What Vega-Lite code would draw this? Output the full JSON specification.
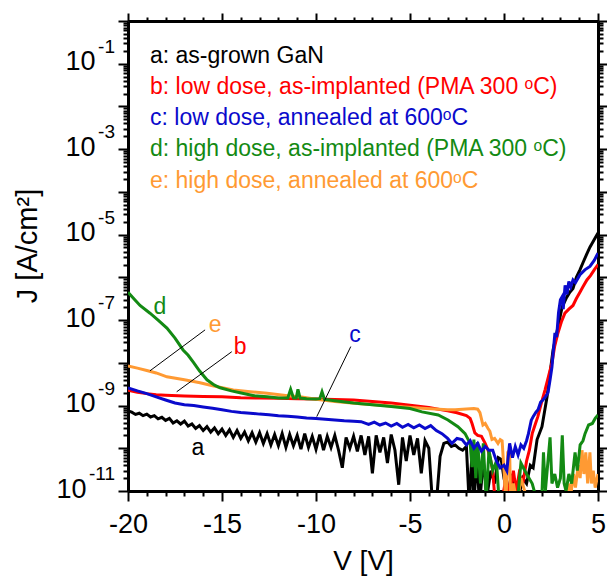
{
  "$schema": "https://vega.github.io/schema/vega-lite/v6.json",
  "width": 470,
  "height": 470,
  "autosize": {"type": "none"},
  "padding": {"left": 128, "top": 21, "right": 9, "bottom": 88},
  "background": "white",
  "config": {
    "view": {"stroke": null},
    "axis": {
      "domainColor": "black", "domainWidth": 3, "tickColor": "black", "tickWidth": 2,
      "labelFont": "Liberation Sans", "labelFontSize": 27, "labelColor": "black",
      "titleFont": "Liberation Sans", "titleFontSize": 28, "titleFontWeight": "normal", "titleColor": "black",
      "grid": false, "labelOverlap": false, "labelFlush": false, "zindex": 1
    },
    "text": {"font": "Liberation Sans"}
  },
  "datasets": {
    "curves": [
      {"s":"a","V":-20,"J":7.5e-10},{"s":"a","V":-19.8,"J":7.0e-10},{"s":"a","V":-19.6,"J":6.2e-10},{"s":"a","V":-19.4,"J":6.6e-10},{"s":"a","V":-19.2,"J":5.8e-10},{"s":"a","V":-19.0,"J":6.3e-10},{"s":"a","V":-18.8,"J":5.4e-10},{"s":"a","V":-18.6,"J":5.8e-10},{"s":"a","V":-18.4,"J":4.9e-10},{"s":"a","V":-18.2,"J":5.3e-10},{"s":"a","V":-18.0,"J":4.5e-10},{"s":"a","V":-17.8,"J":5.0e-10},{"s":"a","V":-17.6,"J":3.9e-10},{"s":"a","V":-17.4,"J":4.4e-10},{"s":"a","V":-17.2,"J":3.7e-10},{"s":"a","V":-17.0,"J":4.3e-10},{"s":"a","V":-16.8,"J":3.3e-10},{"s":"a","V":-16.6,"J":3.7e-10},{"s":"a","V":-16.4,"J":2.9e-10},{"s":"a","V":-16.2,"J":3.4e-10},{"s":"a","V":-16.0,"J":2.6e-10},{"s":"a","V":-15.8,"J":3.2e-10},{"s":"a","V":-15.6,"J":2.4e-10},{"s":"a","V":-15.4,"J":3.0e-10},{"s":"a","V":-15.2,"J":2.2e-10},{"s":"a","V":-15.0,"J":2.8e-10},{"s":"a","V":-14.8,"J":2.0e-10},{"s":"a","V":-14.6,"J":2.7e-10},{"s":"a","V":-14.4,"J":1.8e-10},{"s":"a","V":-14.2,"J":2.6e-10},{"s":"a","V":-14.0,"J":1.7e-10},{"s":"a","V":-13.8,"J":2.4e-10},{"s":"a","V":-13.6,"J":1.5e-10},{"s":"a","V":-13.4,"J":2.3e-10},{"s":"a","V":-13.2,"J":1.4e-10},{"s":"a","V":-13.0,"J":2.3e-10},{"s":"a","V":-12.8,"J":1.3e-10},{"s":"a","V":-12.6,"J":2.2e-10},{"s":"a","V":-12.4,"J":1.2e-10},{"s":"a","V":-12.2,"J":2.1e-10},{"s":"a","V":-12.0,"J":1.15e-10},{"s":"a","V":-11.8,"J":2.2e-10},{"s":"a","V":-11.6,"J":1.05e-10},{"s":"a","V":-11.4,"J":2.1e-10},{"s":"a","V":-11.2,"J":1.15e-10},{"s":"a","V":-11.0,"J":2.0e-10},{"s":"a","V":-10.8,"J":9.5e-11},{"s":"a","V":-10.6,"J":2.2e-10},{"s":"a","V":-10.4,"J":1.05e-10},{"s":"a","V":-10.2,"J":1.9e-10},{"s":"a","V":-10.0,"J":9.5e-11},{"s":"a","V":-9.8,"J":2.1e-10},{"s":"a","V":-9.6,"J":9.0e-11},{"s":"a","V":-9.4,"J":1.9e-10},{"s":"a","V":-9.2,"J":1.05e-10},{"s":"a","V":-9.0,"J":2.0e-10},{"s":"a","V":-8.8,"J":9.0e-11},{"s":"a","V":-8.6,"J":3.5e-11},{"s":"a","V":-8.4,"J":1.8e-10},{"s":"a","V":-8.2,"J":1.0e-10},{"s":"a","V":-8.0,"J":1.9e-10},{"s":"a","V":-7.8,"J":8.5e-11},{"s":"a","V":-7.6,"J":2.0e-10},{"s":"a","V":-7.4,"J":7.0e-11},{"s":"a","V":-7.2,"J":1.9e-10},{"s":"a","V":-7.0,"J":2.6e-11},{"s":"a","V":-6.8,"J":2.0e-10},{"s":"a","V":-6.6,"J":8.0e-11},{"s":"a","V":-6.4,"J":1.8e-10},{"s":"a","V":-6.2,"J":4.5e-11},{"s":"a","V":-6.0,"J":2.1e-10},{"s":"a","V":-5.8,"J":9.0e-11},{"s":"a","V":-5.6,"J":1.4e-11},{"s":"a","V":-5.4,"J":1.8e-10},{"s":"a","V":-5.2,"J":5.0e-11},{"s":"a","V":-5.0,"J":2.0e-10},{"s":"a","V":-4.8,"J":7.0e-11},{"s":"a","V":-4.6,"J":1.7e-10},{"s":"a","V":-4.4,"J":2.6e-11},{"s":"a","V":-4.2,"J":1.5e-10},{"s":"a","V":-4.0,"J":1.0e-10},{"s":"a","V":-3.8,"J":5e-12},{"s":"a","V":-3.6,"J":5e-12},{"s":"a","V":-3.4,"J":6.5e-11},{"s":"a","V":-3.2,"J":1.3e-10},{"s":"a","V":-3.0,"J":1.4e-10},{"s":"a","V":-2.8,"J":1.1e-10},{"s":"a","V":-2.6,"J":1.2e-10},{"s":"a","V":-2.4,"J":1.0e-10},{"s":"a","V":-2.2,"J":9.0e-11},{"s":"a","V":-2.0,"J":1.1e-10},{"s":"a","V":-1.85,"J":5e-12},{"s":"a","V":-1.7,"J":8e-11},{"s":"a","V":-1.6,"J":5e-12},{"s":"a","V":-1.45,"J":6e-11},{"s":"a","V":-1.3,"J":5e-12},{"s":"a","V":-1.1,"J":5e-11},{"s":"a","V":-0.9,"J":8e-12},{"s":"a","V":-0.7,"J":3e-11},{"s":"a","V":-0.5,"J":1.5e-11},{"s":"a","V":-0.3,"J":6e-11},{"s":"a","V":-0.15,"J":5.5e-11},{"s":"a","V":0.0,"J":2e-11},{"s":"a","V":0.2,"J":8e-12},{"s":"a","V":0.4,"J":2.5e-11},{"s":"a","V":0.6,"J":1.2e-11},{"s":"a","V":0.8,"J":8e-12},{"s":"a","V":1.0,"J":2e-11},{"s":"a","V":1.2,"J":1.5e-11},{"s":"a","V":1.4,"J":4e-11},{"s":"a","V":1.55,"J":3.5e-11},{"s":"a","V":1.76,"J":1.6e-10},{"s":"a","V":2.02,"J":3.2e-10},{"s":"a","V":2.29,"J":1.6e-9},{"s":"a","V":2.45,"J":5.8e-9},{"s":"a","V":2.61,"J":2.0e-8},{"s":"a","V":2.87,"J":6.9e-8},{"s":"a","V":3.09,"J":2.0e-7},{"s":"a","V":3.3,"J":3.2e-7},{"s":"a","V":3.5,"J":4.5e-7},{"s":"a","V":3.67,"J":5.5e-7},{"s":"a","V":3.85,"J":1.0e-6},{"s":"a","V":4.04,"J":1.5e-6},{"s":"a","V":4.2,"J":2.2e-6},{"s":"a","V":4.4,"J":3.5e-6},{"s":"a","V":4.57,"J":5.1e-6},{"s":"a","V":4.75,"J":7.0e-6},{"s":"a","V":5.0,"J":1.1e-5},

      {"s":"b","V":-20,"J":2.3e-9},{"s":"b","V":-19.5,"J":2.05e-9},{"s":"b","V":-19,"J":1.9e-9},{"s":"b","V":-18.5,"J":1.8e-9},{"s":"b","V":-18,"J":1.75e-9},{"s":"b","V":-17,"J":1.68e-9},{"s":"b","V":-16,"J":1.63e-9},{"s":"b","V":-15,"J":1.6e-9},{"s":"b","V":-14,"J":1.52e-9},{"s":"b","V":-13,"J":1.5e-9},{"s":"b","V":-12,"J":1.48e-9},{"s":"b","V":-11,"J":1.45e-9},{"s":"b","V":-10,"J":1.42e-9},{"s":"b","V":-9,"J":1.38e-9},{"s":"b","V":-8,"J":1.35e-9},{"s":"b","V":-7,"J":1.25e-9},{"s":"b","V":-6,"J":1.15e-9},{"s":"b","V":-5,"J":1.02e-9},{"s":"b","V":-4,"J":9.0e-10},{"s":"b","V":-3,"J":7.5e-10},{"s":"b","V":-2.5,"J":6.8e-10},{"s":"b","V":-2,"J":5.8e-10},{"s":"b","V":-1.8,"J":5.0e-10},{"s":"b","V":-1.7,"J":3.8e-10},{"s":"b","V":-1.55,"J":2.3e-10},{"s":"b","V":-1.4,"J":2.0e-10},{"s":"b","V":-1.2,"J":1.9e-10},{"s":"b","V":-1.0,"J":1.3e-10},{"s":"b","V":-0.85,"J":9e-11},{"s":"b","V":-0.7,"J":5e-11},{"s":"b","V":-0.6,"J":3e-11},{"s":"b","V":-0.5,"J":8e-12},{"s":"b","V":-0.3,"J":5e-12},{"s":"b","V":-0.1,"J":6e-12},{"s":"b","V":0.1,"J":2e-11},{"s":"b","V":0.3,"J":8e-12},{"s":"b","V":0.5,"J":3e-11},{"s":"b","V":0.65,"J":1e-11},{"s":"b","V":0.8,"J":2.5e-11},{"s":"b","V":1.0,"J":1.5e-11},{"s":"b","V":1.2,"J":5e-11},{"s":"b","V":1.35,"J":9e-11},{"s":"b","V":1.5,"J":2.2e-10},{"s":"b","V":1.65,"J":3.5e-10},{"s":"b","V":1.8,"J":5.5e-10},{"s":"b","V":2.0,"J":1.2e-9},{"s":"b","V":2.18,"J":2.3e-9},{"s":"b","V":2.35,"J":4.5e-9},{"s":"b","V":2.55,"J":1.0e-8},{"s":"b","V":2.7,"J":2.5e-8},{"s":"b","V":2.87,"J":5.0e-8},{"s":"b","V":3.05,"J":9e-8},{"s":"b","V":3.24,"J":1.45e-7},{"s":"b","V":3.45,"J":1.8e-7},{"s":"b","V":3.67,"J":2.2e-7},{"s":"b","V":3.85,"J":3.2e-7},{"s":"b","V":4.04,"J":4.5e-7},{"s":"b","V":4.2,"J":6.0e-7},{"s":"b","V":4.41,"J":8.7e-7},{"s":"b","V":4.6,"J":1.1e-6},{"s":"b","V":4.8,"J":1.5e-6},{"s":"b","V":5.0,"J":2.0e-6},

      {"s":"e","V":-20,"J":8.5e-9},{"s":"e","V":-19.5,"J":7.5e-9},{"s":"e","V":-19,"J":6.6e-9},{"s":"e","V":-18.5,"J":5.8e-9},{"s":"e","V":-17.93,"J":4.7e-9},{"s":"e","V":-17,"J":4.0e-9},{"s":"e","V":-16.17,"J":3.4e-9},{"s":"e","V":-15.5,"J":2.9e-9},{"s":"e","V":-14.4,"J":2.3e-9},{"s":"e","V":-13.5,"J":2.1e-9},{"s":"e","V":-12.6,"J":1.95e-9},{"s":"e","V":-11.5,"J":1.7e-9},{"s":"e","V":-10.85,"J":1.6e-9},{"s":"e","V":-10,"J":1.4e-9},{"s":"e","V":-9,"J":1.25e-9},{"s":"e","V":-7.66,"J":1.1e-9},{"s":"e","V":-6,"J":9.8e-10},{"s":"e","V":-4.36,"J":8.7e-10},{"s":"e","V":-3,"J":8.0e-10},{"s":"e","V":-2.6,"J":8.0e-10},{"s":"e","V":-2,"J":8.3e-10},{"s":"e","V":-1.6,"J":8.5e-10},{"s":"e","V":-1.4,"J":8.2e-10},{"s":"e","V":-1.28,"J":6.8e-10},{"s":"e","V":-1.12,"J":3.5e-10},{"s":"e","V":-1.0,"J":3.8e-10},{"s":"e","V":-0.85,"J":2.9e-10},{"s":"e","V":-0.75,"J":2.5e-10},{"s":"e","V":-0.64,"J":1.6e-10},{"s":"e","V":-0.5,"J":1.7e-10},{"s":"e","V":-0.32,"J":1.3e-10},{"s":"e","V":-0.2,"J":1.6e-10},{"s":"e","V":-0.1,"J":1.5e-10},{"s":"e","V":0.0,"J":3e-11},{"s":"e","V":0.1,"J":5e-12},{"s":"e","V":0.2,"J":8e-11},{"s":"e","V":0.3,"J":9e-11},{"s":"e","V":0.35,"J":5e-12},{"s":"e","V":0.5,"J":1.5e-11},{"s":"e","V":0.7,"J":5e-12},{"s":"e","V":0.9,"J":2e-11},{"s":"e","V":1.1,"J":1e-11},{"s":"e","V":1.3,"J":5e-12},{"s":"e","V":3.35,"J":5e-12},{"s":"e","V":3.45,"J":1.5e-11},{"s":"e","V":3.55,"J":8e-12},{"s":"e","V":3.7,"J":2.5e-11},{"s":"e","V":3.8,"J":1.2e-11},{"s":"e","V":3.95,"J":4e-11},{"s":"e","V":4.05,"J":2e-11},{"s":"e","V":4.15,"J":9e-11},{"s":"e","V":4.25,"J":2.5e-11},{"s":"e","V":4.35,"J":8e-11},{"s":"e","V":4.45,"J":1.5e-11},{"s":"e","V":4.57,"J":8e-11},{"s":"e","V":4.65,"J":1.5e-11},{"s":"e","V":4.75,"J":3e-11},{"s":"e","V":4.85,"J":1.2e-11},{"s":"e","V":5.0,"J":2.5e-11},

      {"s":"d","V":-20,"J":4.5e-7},{"s":"d","V":-19.7,"J":3.2e-7},{"s":"d","V":-19.36,"J":2.2e-7},{"s":"d","V":-18.83,"J":1.45e-7},{"s":"d","V":-18.4,"J":1.0e-7},{"s":"d","V":-17.93,"J":6.5e-8},{"s":"d","V":-17.5,"J":3.8e-8},{"s":"d","V":-17.07,"J":2.0e-8},{"s":"d","V":-16.8,"J":1.5e-8},{"s":"d","V":-16.5,"J":1.0e-8},{"s":"d","V":-16.2,"J":6.5e-9},{"s":"d","V":-15.8,"J":4.0e-9},{"s":"d","V":-15.4,"J":3.0e-9},{"s":"d","V":-15.1,"J":2.6e-9},{"s":"d","V":-14.5,"J":2.2e-9},{"s":"d","V":-14.04,"J":2.0e-9},{"s":"d","V":-13.3,"J":1.7e-9},{"s":"d","V":-12.6,"J":1.6e-9},{"s":"d","V":-12.0,"J":1.5e-9},{"s":"d","V":-11.5,"J":1.5e-9},{"s":"d","V":-11.35,"J":2.4e-9},{"s":"d","V":-11.2,"J":1.5e-9},{"s":"d","V":-11.05,"J":1.5e-9},{"s":"d","V":-10.96,"J":2.4e-9},{"s":"d","V":-10.85,"J":1.5e-9},{"s":"d","V":-10.5,"J":1.45e-9},{"s":"d","V":-10,"J":1.42e-9},{"s":"d","V":-9.8,"J":1.45e-9},{"s":"d","V":-9.68,"J":2.1e-9},{"s":"d","V":-9.55,"J":1.4e-9},{"s":"d","V":-9,"J":1.3e-9},{"s":"d","V":-8,"J":1.15e-9},{"s":"d","V":-7,"J":1.05e-9},{"s":"d","V":-6,"J":9.5e-10},{"s":"d","V":-5,"J":8.5e-10},{"s":"d","V":-4.36,"J":7.1e-10},{"s":"d","V":-3.5,"J":6.0e-10},{"s":"d","V":-2.98,"J":4.6e-10},{"s":"d","V":-2.45,"J":3.2e-10},{"s":"d","V":-2.07,"J":2.2e-10},{"s":"d","V":-1.8,"J":1.3e-10},{"s":"d","V":-1.7,"J":3.6e-11},{"s":"d","V":-1.6,"J":1.6e-10},{"s":"d","V":-1.5,"J":2e-11},{"s":"d","V":-1.4,"J":1.4e-10},{"s":"d","V":-1.25,"J":1.5e-11},{"s":"d","V":-1.1,"J":1.3e-10},{"s":"d","V":-0.95,"J":6e-12},{"s":"d","V":-0.8,"J":9e-11},{"s":"d","V":-0.6,"J":3e-11},{"s":"d","V":-0.4,"J":5e-11},{"s":"d","V":-0.25,"J":5e-12},{"s":"d","V":0.7,"J":5e-12},{"s":"d","V":0.9,"J":4.5e-11},{"s":"d","V":1.2,"J":2.5e-11},{"s":"d","V":1.5,"J":1.5e-11},{"s":"d","V":1.8,"J":5e-12},{"s":"d","V":2.0,"J":5e-12},{"s":"d","V":2.1,"J":8e-11},{"s":"d","V":2.2,"J":1e-11},{"s":"d","V":2.45,"J":1.8e-10},{"s":"d","V":2.55,"J":1.5e-11},{"s":"d","V":2.7,"J":2.5e-11},{"s":"d","V":2.85,"J":1.2e-11},{"s":"d","V":3.0,"J":2e-11},{"s":"d","V":3.1,"J":2e-10},{"s":"d","V":3.2,"J":1.5e-11},{"s":"d","V":3.3,"J":1.0e-11},{"s":"d","V":3.45,"J":2.5e-11},{"s":"d","V":3.6,"J":1.5e-11},{"s":"d","V":3.78,"J":8e-11},{"s":"d","V":3.9,"J":3e-11},{"s":"d","V":4.05,"J":1.2e-10},{"s":"d","V":4.2,"J":1.5e-10},{"s":"d","V":4.31,"J":2.2e-10},{"s":"d","V":4.5,"J":3.5e-10},{"s":"d","V":4.7,"J":3.8e-10},{"s":"d","V":4.85,"J":5e-10},{"s":"d","V":5.0,"J":6e-10},

      {"s":"c","V":-20,"J":2.6e-9},{"s":"c","V":-19.5,"J":2.2e-9},{"s":"c","V":-19,"J":1.9e-9},{"s":"c","V":-18.5,"J":1.6e-9},{"s":"c","V":-18,"J":1.35e-9},{"s":"c","V":-17.5,"J":1.15e-9},{"s":"c","V":-17,"J":1.05e-9},{"s":"c","V":-16.5,"J":1.0e-9},{"s":"c","V":-16,"J":9.3e-10},{"s":"c","V":-15.5,"J":8.6e-10},{"s":"c","V":-15,"J":8.0e-10},{"s":"c","V":-14.5,"J":7.3e-10},{"s":"c","V":-14,"J":6.9e-10},{"s":"c","V":-13.5,"J":6.6e-10},{"s":"c","V":-13,"J":6.3e-10},{"s":"c","V":-12.5,"J":6.1e-10},{"s":"c","V":-12,"J":5.8e-10},{"s":"c","V":-11.5,"J":5.6e-10},{"s":"c","V":-11,"J":5.4e-10},{"s":"c","V":-10.5,"J":5.1e-10},{"s":"c","V":-10,"J":5.0e-10},{"s":"c","V":-9.5,"J":4.8e-10},{"s":"c","V":-9,"J":4.6e-10},{"s":"c","V":-8.5,"J":4.4e-10},{"s":"c","V":-8,"J":4.3e-10},{"s":"c","V":-7.6,"J":4.2e-10},{"s":"c","V":-7.2,"J":3.6e-10},{"s":"c","V":-6.9,"J":4.1e-10},{"s":"c","V":-6.6,"J":3.5e-10},{"s":"c","V":-6.3,"J":3.9e-10},{"s":"c","V":-6.0,"J":3.3e-10},{"s":"c","V":-5.7,"J":3.8e-10},{"s":"c","V":-5.4,"J":3.1e-10},{"s":"c","V":-5.1,"J":3.6e-10},{"s":"c","V":-4.8,"J":3.0e-10},{"s":"c","V":-4.5,"J":3.5e-10},{"s":"c","V":-4.2,"J":2.9e-10},{"s":"c","V":-3.9,"J":3.4e-10},{"s":"c","V":-3.6,"J":2.6e-10},{"s":"c","V":-3.3,"J":2.2e-10},{"s":"c","V":-3.0,"J":1.7e-10},{"s":"c","V":-2.77,"J":1.3e-10},{"s":"c","V":-2.5,"J":1.7e-10},{"s":"c","V":-2.23,"J":1.6e-10},{"s":"c","V":-2.0,"J":1.2e-10},{"s":"c","V":-1.8,"J":1.5e-10},{"s":"c","V":-1.6,"J":1.0e-10},{"s":"c","V":-1.4,"J":1.3e-10},{"s":"c","V":-1.2,"J":8.5e-11},{"s":"c","V":-1.0,"J":1.1e-10},{"s":"c","V":-0.8,"J":9e-11},{"s":"c","V":-0.6,"J":9e-11},{"s":"c","V":-0.4,"J":5e-11},{"s":"c","V":-0.2,"J":3.5e-11},{"s":"c","V":0.0,"J":4e-11},{"s":"c","V":0.15,"J":3e-11},{"s":"c","V":0.3,"J":1.3e-10},{"s":"c","V":0.45,"J":6e-11},{"s":"c","V":0.6,"J":1.1e-10},{"s":"c","V":0.75,"J":7e-11},{"s":"c","V":0.9,"J":1.2e-10},{"s":"c","V":1.05,"J":1.0e-10},{"s":"c","V":1.2,"J":1.5e-10},{"s":"c","V":1.3,"J":2.2e-10},{"s":"c","V":1.45,"J":4.5e-10},{"s":"c","V":1.55,"J":5.5e-10},{"s":"c","V":1.7,"J":7e-10},{"s":"c","V":1.81,"J":8e-10},{"s":"c","V":1.95,"J":1.2e-9},{"s":"c","V":2.07,"J":1.35e-9},{"s":"c","V":2.2,"J":1.6e-9},{"s":"c","V":2.34,"J":2.0e-9},{"s":"c","V":2.45,"J":4.0e-9},{"s":"c","V":2.55,"J":8.0e-9},{"s":"c","V":2.63,"J":2.0e-8},{"s":"c","V":2.71,"J":5.0e-8},{"s":"c","V":2.8,"J":4.0e-8},{"s":"c","V":2.9,"J":1.5e-7},{"s":"c","V":3.0,"J":3.0e-7},{"s":"c","V":3.09,"J":3.5e-7},{"s":"c","V":3.15,"J":1.8e-7},{"s":"c","V":3.25,"J":6.5e-7},{"s":"c","V":3.35,"J":4.0e-7},{"s":"c","V":3.45,"J":8.0e-7},{"s":"c","V":3.55,"J":6.0e-7},{"s":"c","V":3.67,"J":8.7e-7},{"s":"c","V":3.8,"J":7.5e-7},{"s":"c","V":4.04,"J":1.15e-6},{"s":"c","V":4.3,"J":1.5e-6},{"s":"c","V":4.57,"J":1.8e-6},{"s":"c","V":4.8,"J":2.5e-6},{"s":"c","V":5.0,"J":3.7e-6}
    ],
    "legend": [
      {"s":"a","V":-18.83,"J":0.104,"t":"a: as-grown GaN"},
      {"s":"b","V":-18.83,"J":0.0196,"t":"b: low dose, as-implanted (PMA 300 ᵒC)"},
      {"s":"c","V":-18.83,"J":0.00368,"t":"c: low dose, annealed at 600ᵒC"},
      {"s":"d","V":-18.83,"J":0.000693,"t":"d: high dose, as-implanted (PMA 300 ᵒC)"},
      {"s":"e","V":-18.83,"J":0.000124,"t":"e: high dose, annealed at 600ᵒC"}
    ],
    "letters": [
      {"s":"a","V":-16.28,"J":1.02e-10,"t":"a"},
      {"s":"b","V":-14.04,"J":2.35e-8,"t":"b"},
      {"s":"c","V":-7.93,"J":4.5e-8,"t":"c"},
      {"s":"d","V":-18.3,"J":2.0e-7,"t":"d"},
      {"s":"e","V":-15.37,"J":7.7e-8,"t":"e"}
    ],
    "leaders": [
      {"V":-15.9,"J":5.9e-8,"V2":-18.83,"J2":6.5e-9},
      {"V":-14.48,"J":1.82e-8,"V2":-17.41,"J2":2.1e-9},
      {"V":-8.15,"J":2.4e-8,"V2":-9.96,"J2":5.5e-10}
    ],
    "exponents": [
      {"V":-20,"J":0.1,"t":"-1"},
      {"V":-20,"J":0.001,"t":"-3"},
      {"V":-20,"J":1e-5,"t":"-5"},
      {"V":-20,"J":1e-7,"t":"-7"},
      {"V":-20,"J":1e-9,"t":"-9"},
      {"V":-20,"J":1e-11,"t":"-11"}
    ]
  },
  "layer": [
    {
      "data": {"name": "curves"},
      "mark": {"type": "line", "strokeWidth": 3, "clip": true},
      "encoding": {
        "x": {"field": "V", "type": "quantitative",
          "scale": {"domain": [-20, 5], "nice": false, "zero": false},
          "axis": {"orient": "bottom",
            "values": [-20,-19,-18,-17,-16,-15,-14,-13,-12,-11,-10,-9,-8,-7,-6,-5,-4,-3,-2,-1,0,1,2,3,4,5],
            "tickSize": {"condition": {"test": "datum.value % 5 === 0", "value": 10}, "value": 5},
            "labelExpr": "datum.value % 5 === 0 ? '' + datum.value : ''",
            "labelPadding": 10,
            "title": "V [V]", "titleX": 235, "titleY": 78, "titleBaseline": "alphabetic", "titleAlign": "center"}},
        "y": {"field": "J", "type": "quantitative",
          "scale": {"type": "log", "domain": [1e-11, 1], "nice": false},
          "axis": {"orient": "left",
            "values": [1e-11,2e-11,3e-11,4e-11,5e-11,6e-11,7e-11,8e-11,9e-11,1e-10,2e-10,3e-10,4e-10,5e-10,6e-10,7e-10,8e-10,9e-10,1e-9,2e-9,3e-9,4e-9,5e-9,6e-9,7e-9,8e-9,9e-9,1e-8,2e-8,3e-8,4e-8,5e-8,6e-8,7e-8,8e-8,9e-8,1e-7,2e-7,3e-7,4e-7,5e-7,6e-7,7e-7,8e-7,9e-7,1e-6,2e-6,3e-6,4e-6,5e-6,6e-6,7e-6,8e-6,9e-6,1e-5,2e-5,3e-5,4e-5,5e-5,6e-5,7e-5,8e-5,9e-5,1e-4,2e-4,3e-4,4e-4,5e-4,6e-4,7e-4,8e-4,9e-4,1e-3,2e-3,3e-3,4e-3,5e-3,6e-3,7e-3,8e-3,9e-3,1e-2,2e-2,3e-2,4e-2,5e-2,6e-2,7e-2,8e-2,9e-2,0.1,0.2,0.3,0.4,0.5,0.6,0.7,0.8,0.9,1],
            "tickSize": {"condition": {"test": "abs(log(datum.value)/LN10 - round(log(datum.value)/LN10)) < 0.01", "value": 10}, "value": 5},
            "labelExpr": "indexof([-1000,-3000,-5000,-7000,-9000,-11000], round(log(datum.value)/LN10*1000)) >= 0 ? '10' : ''",
            "labelPadding": {"condition": {"test": "round(log(datum.value)/LN10) == -11", "value": 32}, "value": 23},
            "labelBaseline": "middle", "labelOffset": -2,
            "title": "J [A/cm²]", "titleFontSize": 29, "titleX": -92, "titleY": 224.5, "titleAngle": -90, "titleBaseline": "alphabetic", "titleAlign": "center"}},
        "color": {"field": "s", "type": "nominal",
          "scale": {"domain": ["a","b","c","d","e"], "range": ["#000000","#ff0000","#0a0acc","#138a13","#ff9a33"]},
          "legend": null}
      }
    },
    {
      "data": {"name": "leaders"},
      "mark": {"type": "rule", "strokeWidth": 1, "color": "black"},
      "encoding": {
        "x": {"field": "V", "type": "quantitative",
          "scale": {"domain": [-20, 5], "nice": false, "zero": false},
          "axis": {"orient": "top", "labels": false, "title": null,
            "values": [-20,-19,-18,-17,-16,-15,-14,-13,-12,-11,-10,-9,-8,-7,-6,-5,-4,-3,-2,-1,0,1,2,3,4,5],
            "tickSize": {"condition": {"test": "datum.value % 5 === 0", "value": 8}, "value": 4}}},
        "x2": {"field": "V2"},
        "y": {"field": "J", "type": "quantitative",
          "scale": {"type": "log", "domain": [1e-11, 1], "nice": false},
          "axis": {"orient": "right", "labels": false, "title": null,
            "values": [1e-11,2e-11,3e-11,4e-11,5e-11,6e-11,7e-11,8e-11,9e-11,1e-10,2e-10,3e-10,4e-10,5e-10,6e-10,7e-10,8e-10,9e-10,1e-9,2e-9,3e-9,4e-9,5e-9,6e-9,7e-9,8e-9,9e-9,1e-8,2e-8,3e-8,4e-8,5e-8,6e-8,7e-8,8e-8,9e-8,1e-7,2e-7,3e-7,4e-7,5e-7,6e-7,7e-7,8e-7,9e-7,1e-6,2e-6,3e-6,4e-6,5e-6,6e-6,7e-6,8e-6,9e-6,1e-5,2e-5,3e-5,4e-5,5e-5,6e-5,7e-5,8e-5,9e-5,1e-4,2e-4,3e-4,4e-4,5e-4,6e-4,7e-4,8e-4,9e-4,1e-3,2e-3,3e-3,4e-3,5e-3,6e-3,7e-3,8e-3,9e-3,1e-2,2e-2,3e-2,4e-2,5e-2,6e-2,7e-2,8e-2,9e-2,0.1,0.2,0.3,0.4,0.5,0.6,0.7,0.8,0.9,1],
            "tickSize": {"condition": {"test": "abs(log(datum.value)/LN10 - round(log(datum.value)/LN10)) < 0.01", "value": 9}, "value": 5}}},
        "y2": {"field": "J2"}
      }
    },
    {
      "data": {"name": "exponents"},
      "mark": {"type": "text", "fontSize": 19, "align": "right", "baseline": "alphabetic", "dx": -13, "dy": -11, "color": "black"},
      "encoding": {
        "x": {"field": "V", "type": "quantitative", "scale": {"domain": [-20, 5], "nice": false, "zero": false}, "axis": null},
        "y": {"field": "J", "type": "quantitative", "scale": {"type": "log", "domain": [1e-11, 1], "nice": false}, "axis": null},
        "text": {"field": "t"}
      }
    },
    {
      "data": {"name": "letters"},
      "mark": {"type": "text", "fontSize": 23, "align": "center", "baseline": "middle"},
      "encoding": {
        "x": {"field": "V", "type": "quantitative", "scale": {"domain": [-20, 5], "nice": false, "zero": false}, "axis": null},
        "y": {"field": "J", "type": "quantitative", "scale": {"type": "log", "domain": [1e-11, 1], "nice": false}, "axis": null},
        "text": {"field": "t"},
        "color": {"field": "s", "type": "nominal", "legend": null}
      }
    },
    {
      "data": {"name": "legend"},
      "mark": {"type": "text", "fontSize": 23, "align": "left", "baseline": "alphabetic"},
      "encoding": {
        "x": {"field": "V", "type": "quantitative", "scale": {"domain": [-20, 5], "nice": false, "zero": false}, "axis": null},
        "y": {"field": "J", "type": "quantitative", "scale": {"type": "log", "domain": [1e-11, 1], "nice": false}, "axis": null},
        "text": {"field": "t"},
        "color": {"field": "s", "type": "nominal", "legend": null}
      }
    }
  ],
  "resolve": {"axis": {"x": "independent", "y": "independent"}}
}
